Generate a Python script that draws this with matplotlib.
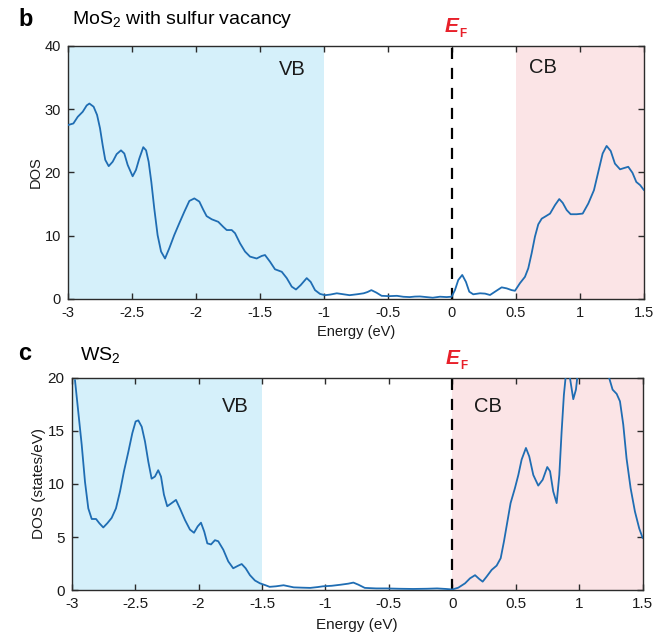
import matplotlib
matplotlib.use("Agg")
import matplotlib.pyplot as plt

plt.rcParams['font.family'] = ['Liberation Sans', 'DejaVu Sans']
plt.rcParams['mathtext.fontset'] = 'custom'
plt.rcParams['mathtext.rm'] = 'Liberation Sans'
plt.rcParams['mathtext.it'] = 'Liberation Sans:italic'
plt.rcParams['mathtext.bf'] = 'Liberation Sans:bold'

# MoS2 with sulfur vacancy: energy (eV) vs DOS
mos2_energy = [-3.00, -2.958, -2.924, -2.885, -2.854, -2.833, -2.80, -2.773, -2.75, -2.729,
               -2.709, -2.682, -2.651, -2.62, -2.586, -2.56, -2.534, -2.495, -2.469, -2.443,
               -2.412, -2.39, -2.37, -2.349, -2.326, -2.30, -2.273, -2.242, -2.209, -2.17,
               -2.13, -2.091, -2.052, -2.013, -1.974, -1.943, -1.917, -1.877, -1.826, -1.787,
               -1.76, -1.721, -1.695, -1.656, -1.617, -1.578, -1.526, -1.487, -1.461, -1.422,
               -1.383, -1.33, -1.291, -1.252, -1.219, -1.182, -1.135, -1.104, -1.07, -1.031,
               -0.992, -0.95, -0.90, -0.85, -0.80, -0.74, -0.69, -0.66, -0.63, -0.59,
               -0.55, -0.49, -0.43, -0.38, -0.33, -0.29, -0.25, -0.20, -0.15, -0.094,
               -0.042, -0.003, 0.023, 0.049, 0.08, 0.109, 0.135, 0.166, 0.219, 0.258,
               0.297, 0.344, 0.388, 0.427, 0.466, 0.492, 0.531, 0.57, 0.596, 0.622,
               0.648, 0.674, 0.701, 0.734, 0.766, 0.805, 0.838, 0.865, 0.896, 0.927,
               0.974, 1.021, 1.065, 1.109, 1.143, 1.177, 1.208, 1.24, 1.273, 1.313,
               1.344, 1.377, 1.41, 1.44, 1.47, 1.50]
mos2_dos = [27.5, 27.75, 28.8, 29.6, 30.6, 30.9, 30.4, 29.1, 27.0, 24.3,
            22.0, 21.0, 21.7, 22.9, 23.5, 23.0, 21.2, 19.4, 20.4, 22.2,
            24.0, 23.5, 21.7, 18.5, 14.3, 10.1, 7.5, 6.4, 8.0, 10.1,
            12.0, 13.8, 15.5, 15.9, 15.4, 14.1, 13.1, 12.6, 12.2, 11.4,
            10.9, 10.9, 10.4, 8.8, 7.5, 6.7, 6.4, 6.8, 6.95, 5.9,
            4.7, 4.3, 3.3, 1.95, 1.5, 2.2, 3.3, 2.7, 1.4, 0.8,
            0.6, 0.7, 0.9, 0.75, 0.6, 0.75, 0.9, 1.1, 1.4, 1.0,
            0.5, 0.45, 0.5, 0.35, 0.3, 0.38, 0.4, 0.3, 0.2, 0.36,
            0.3, 0.36, 1.4, 3.0, 3.8, 2.7, 1.15, 0.74, 0.9, 0.85,
            0.63, 1.26, 1.84, 1.68, 1.4, 1.3, 2.5, 3.5, 4.85, 7.2,
            9.85, 11.8, 12.7, 13.1, 13.5, 14.85, 15.8, 15.2, 14.06, 13.4,
            13.4, 13.5, 15.1, 17.2, 20.1, 23.0, 24.2, 23.4, 21.4, 20.5,
            20.7, 20.9, 19.95, 18.5, 18.0, 17.2]

# WS2: energy (eV) vs DOS (states/eV)
ws2_energy = [-2.974, -2.948, -2.921, -2.895, -2.869, -2.842, -2.808, -2.782, -2.751, -2.719,
              -2.685, -2.651, -2.619, -2.588, -2.554, -2.522, -2.496, -2.475, -2.448, -2.422,
              -2.396, -2.37, -2.344, -2.318, -2.296, -2.273, -2.247, -2.212, -2.178, -2.147,
              -2.107, -2.068, -2.036, -2.007, -1.981, -1.955, -1.931, -1.902, -1.871, -1.845,
              -1.805, -1.766, -1.727, -1.687, -1.66, -1.629, -1.595, -1.556, -1.516, -1.477,
              -1.44, -1.39, -1.33, -1.29, -1.25, -1.18, -1.12, -1.06, -1.02, -0.95,
              -0.88, -0.82, -0.78, -0.74, -0.69, -0.60, -0.52, -0.42, -0.31, -0.20,
              -0.12, -0.05, 0.00, 0.047, 0.10, 0.139, 0.179, 0.212, 0.239, 0.27,
              0.31, 0.349, 0.381, 0.407, 0.433, 0.459, 0.493, 0.52, 0.546, 0.58,
              0.606, 0.638, 0.677, 0.712, 0.748, 0.77, 0.795, 0.822, 0.843, 0.861,
              0.879, 0.893, 0.91, 0.927, 0.953, 0.974, 0.987, 1.02, 1.08, 1.14,
              1.20, 1.236, 1.263, 1.295, 1.321, 1.347, 1.373, 1.405, 1.439, 1.473,
              1.50]
ws2_dos = [19.8, 16.8, 13.7, 10.2, 7.7, 6.7, 6.7, 6.3, 5.9, 6.3,
           6.8, 7.7, 9.3, 11.2, 13.0, 14.8, 15.9, 16.0, 15.4, 14.0,
           12.1, 10.5, 10.7, 11.3, 10.7, 9.0, 7.9, 8.2, 8.5, 7.7,
           6.6, 5.7, 5.4, 6.0, 6.35, 5.5, 4.4, 4.3, 4.7, 4.6,
           3.8, 2.7, 2.05, 2.3, 2.45, 2.05, 1.4, 0.9, 0.63, 0.47,
           0.3, 0.35, 0.45, 0.35, 0.25, 0.22, 0.2, 0.28, 0.35, 0.4,
           0.5, 0.6, 0.7, 0.5, 0.2, 0.15, 0.15, 0.12, 0.1, 0.12,
           0.15, 0.1, 0.05, 0.22, 0.63, 1.1, 1.4, 1.04, 0.79, 1.26,
           1.9, 2.3, 3.0, 4.6, 6.4, 8.2, 9.6, 10.85, 12.3, 13.4,
           12.6, 10.85, 9.85, 10.4, 11.6, 11.2, 9.3, 8.2, 10.85, 14.9,
           18.4, 20.1, 21.5, 20.0, 18.0, 18.9, 20.3, 23.0, 25.0, 25.5,
           23.0, 20.0, 18.9, 18.5, 17.8, 15.6, 12.4, 9.6, 7.4, 5.8,
           4.9]

xticks = [-3, -2.5, -2, -1.5, -1, -0.5, 0, 0.5, 1, 1.5]
xtick_labels = ['-3', '-2.5', '-2', '-1.5', '-1', '-0.5', '0', '0.5', '1', '1.5']

line_color = '#1f6db3'
vb_color = '#d5f0fa'
cb_color = '#fbe4e6'
ef_color = '#e8202a'
spine_color = '#2b2b2b'
text_color = '#1a1a1a'

fig = plt.figure(figsize=(6.57, 6.36), dpi=100)
ax1 = fig.add_axes([0.1035, 0.5299, 0.8767, 0.3978])
ax2 = fig.add_axes([0.1091, 0.0723, 0.8691, 0.3334])


def style_axis(ax, ylim, yticks, ylabel, fs, xpad, ypad):
    ax.set_xlim(-3, 1.5)
    ax.set_ylim(*ylim)
    ax.set_xticks(xticks)
    ax.set_xticklabels(xtick_labels)
    ax.set_yticks(yticks)
    ax.tick_params(direction='in', top=True, right=True, length=4.5, width=1.0,
                   labelsize=fs, colors=spine_color, pad=5)
    ax.tick_params(labelcolor=text_color)
    for s in ax.spines.values():
        s.set_color(spine_color)
        s.set_linewidth(1.0)
    ax.set_xlabel('Energy (eV)', fontsize=fs, labelpad=xpad, color=text_color)
    ax.set_ylabel(ylabel, fontsize=fs, labelpad=ypad, color=text_color)


def fermi_label(ax):
    # bold italic E with a small bold F subscript, centred over E = 0
    ax.annotate('E', xy=(0, 1), xycoords=('data', 'axes fraction'),
                xytext=(0, 10), textcoords='offset points', ha='center', va='baseline',
                fontsize=15, fontweight='bold', fontstyle='italic', color=ef_color)
    ax.annotate('F', xy=(0, 1), xycoords=('data', 'axes fraction'),
                xytext=(5.5, 6.5), textcoords='offset points', ha='left', va='baseline',
                fontsize=8.5, fontweight='bold', color=ef_color)


line_style = dict(color=line_color, lw=1.3, zorder=3,
                  solid_joinstyle='round', solid_capstyle='round')

# Top: MoS2 with sulfur vacancy
ax1.axvspan(-3, -1, color=vb_color, zorder=0, lw=0)
ax1.axvspan(0.5, 1.5, color=cb_color, zorder=0, lw=0)
ax1.plot(mos2_energy, mos2_dos, **line_style)
ax1.axvline(0, color='black', lw=1.6, ls=(0, (5, 4)), zorder=2)
style_axis(ax1, (0, 40), [0, 10, 20, 30, 40], 'DOS', 10.5, 4, 1.5)
ax1.text(-1.25, 36.3, 'VB', fontsize=14.5, ha='center', va='center', color=text_color)
ax1.text(0.71, 36.6, 'CB', fontsize=14.5, ha='center', va='center', color=text_color)
fermi_label(ax1)

# Bottom: WS2
ax2.axvspan(-3, -1.5, color=vb_color, zorder=0, lw=0)
ax2.axvspan(0, 1.5, color=cb_color, zorder=0, lw=0)
ax2.plot(ws2_energy, ws2_dos, **line_style)
ax2.axvline(0, color='black', lw=1.6, ls=(0, (5, 4)), zorder=2)
style_axis(ax2, (0, 20), [0, 5, 10, 15, 20], 'DOS (states/eV)', 11, 5, 1)
ax2.text(-1.71, 17.3, 'VB', fontsize=14.5, ha='center', va='center', color=text_color)
ax2.text(0.28, 17.3, 'CB', fontsize=14.5, ha='center', va='center', color=text_color)
fermi_label(ax2)

# Panel letters and titles
fig.text(18 / 657, 1 - 19 / 636, 'b', fontsize=17, fontweight='bold', va='center', ha='left')
fig.text(72 / 657, 1 - 20 / 636, r'MoS$_2$ with sulfur vacancy', fontsize=14, va='center', ha='left')
fig.text(18 / 657, 1 - 354 / 636, 'c', fontsize=17, fontweight='bold', va='center', ha='left')
fig.text(80 / 657, 1 - 355 / 636, r'WS$_2$', fontsize=14, va='center', ha='left')

fig.savefig('out.png', dpi=100)
